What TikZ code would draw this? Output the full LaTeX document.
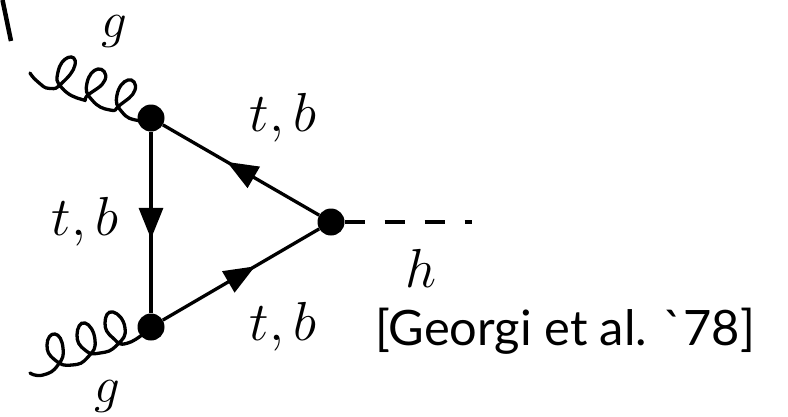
\documentclass[tikz,border=0pt]{standalone}
\usepackage{amsmath, amssymb}
\usepackage{fontspec}
\newfontfamily\citefont{Lato}
\usepackage{tikz}
\usetikzlibrary{arrows.meta, positioning, decorations.markings}
\tikzset{
  vertexdot/.style={circle, fill=black, inner sep=0pt, minimum size=27pt},
  fermion/.style={line width=3.3pt, postaction={decorate}, decoration={markings,
      mark=at position 0.59 with {\arrow{Triangle[length=31pt,width=24pt]}}}},
  gluon/.style={line width=3.3pt, line cap=round},
  higgs/.style={line width=3.3pt, dash pattern=on 20pt off 20pt},
  mathlabel/.style={font=\Huge, scale=2.21, inner sep=0pt},
  gluonlabel/.style={font=\Huge, scale=2.05, inner sep=0pt},
  citelabel/.style={font=\fontsize{48.8pt}{48.8pt}\selectfont\citefont, inner sep=0pt}
}
\begin{document}
\begin{tikzpicture}[x=1pt, y=-1pt]
    \useasboundingbox (0,0) rectangle (788,416);
    \node[vertexdot] (top) at (151,118) {};
    \node[vertexdot] (bottom) at (151,327) {};
    \node[vertexdot] (right) at (331,222) {};
    \coordinate (gluontop) at (30,73);
    \coordinate (gluonbottom) at (30,373);
    \coordinate (higgsend) at (472,222);
    \coordinate (strokea) at (2.5,0);
    \coordinate (strokeb) at (11,41);
    \draw[fermion] (top) -- (bottom);
    \draw[fermion] (right) -- (top);
    \draw[fermion] (bottom) -- (right);
    \draw[gluon] plot[smooth, tension=0.95] coordinates {(gluontop) (38,82) (50,88.5) (62,83) (75,65) (68,57.5) (58,72) (62,88) (82,99.5) (88,95) (105,80) (98,69) (87,83) (92,100) (110,110) (120,105) (135,90) (128,80) (117,95) (122,112) (138,120.5) (top)};
    \draw[gluon] plot[smooth, tension=0.95] coordinates {(gluonbottom) (43,375) (58,365) (63,348) (55,334) (47,345) (55,360) (72,365) (88,357) (95,340) (85,323) (77,335) (85,350) (100,353) (117,345) (125,328) (113,312) (105,323) (113,338) (128,343) (bottom)};
    \draw[higgs] (right) -- (higgsend);
    \draw[line width=4.5pt] (strokea) -- (strokeb);
    \node[gluonlabel] (glabeltop) at (114,31) {$g$};
    \node[gluonlabel] (glabelbottom) at (107,396) {$g$};
    \node[mathlabel] (tbtop) at (283,118) {$t,b$};
    \node[mathlabel] (tbleft) at (85,222) {$t,b$};
    \node[mathlabel] (tbbottom) at (283,327) {$t,b$};
    \node[mathlabel] (hlabel) at (421,268) {$h$};
    \node[citelabel] (cite) at (565,331) {[Georgi et al. \symbol{96}78]};
\end{tikzpicture}
\end{document}
